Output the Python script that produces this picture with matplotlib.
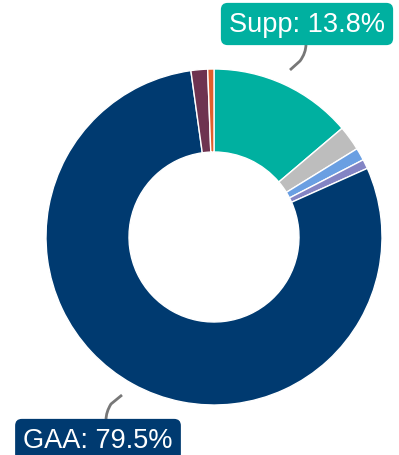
import matplotlib.pyplot as plt
from matplotlib.path import Path
from matplotlib.patches import PathPatch

# data
labels = ['Supp', 'Other A', 'Other B', 'Other C', 'GAA', 'Other D', 'Other E']
shares = [13.8, 2.4, 1.2, 0.9, 79.5, 1.6, 0.6]
colors = ['#00b0a0', '#bdbdbd', '#6a9fe2', '#8384c4', '#003a70', '#6e3350', '#e0602c']
shown = {'Supp': '#00b0a0', 'GAA': '#003a70'}

W, H = 399, 456
fig = plt.figure(figsize=(W / 100, H / 100), dpi=100)
ax = fig.add_axes([0, 0, 1, 1])

# pixel coords from top -> flip y
def py(y):
    return H - y

ax.pie(shares, colors=colors, startangle=90, counterclock=False,
       center=(214, py(238)), radius=168, frame=True,
       wedgeprops=dict(width=168 - 85, edgecolor='white', linewidth=1))
ax.set_xlim(0, W)
ax.set_ylim(0, H)
ax.set_aspect('equal')
ax.axis('off')

def leader(pts):
    verts = [(x, py(y)) for x, y in pts]
    codes = [Path.MOVETO, Path.LINETO, Path.CURVE3, Path.CURVE3]
    ax.add_patch(PathPatch(Path(verts, codes), fc='none', ec='#777777', lw=2))

leader([(290, 71), (300, 62), (306, 54), (306, 45)])
leader([(122, 396), (111, 405), (106, 413), (106, 421)])

box = dict(boxstyle='round,pad=0.3,rounding_size=0.25', lw=0)
ax.text(307, py(25), 'Supp: 13.8%', ha='center', va='center', color='white',
        fontsize=19.5, family='Liberation Sans',
        bbox=dict(box, fc=shown['Supp']))
ax.text(98, py(441), 'GAA: 79.5%', ha='center', va='center', color='white',
        fontsize=19.5, family='Liberation Sans',
        bbox=dict(box, fc=shown['GAA']))

fig.savefig('out.png', dpi=100)
